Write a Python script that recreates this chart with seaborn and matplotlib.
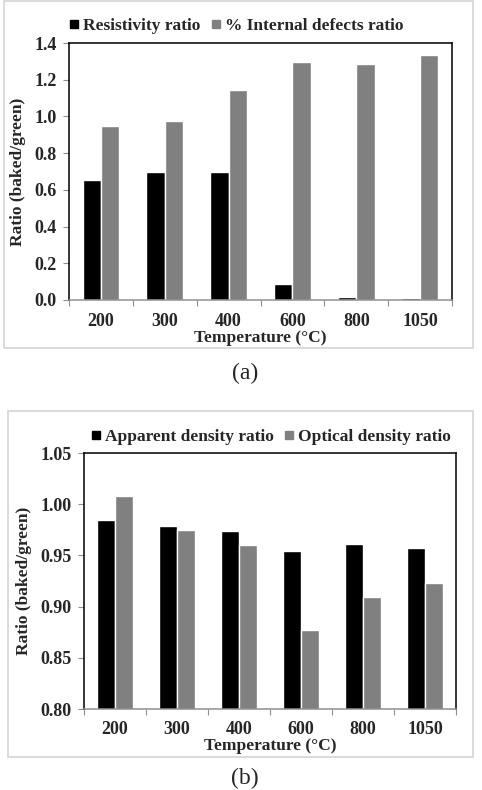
import numpy as np
import pandas as pd
import matplotlib
matplotlib.use("Agg")
import matplotlib.pyplot as plt
import seaborn as sns
from matplotlib.patches import Rectangle
from matplotlib.lines import Line2D

# ---------------------------------------------------------------------------
# data
# ---------------------------------------------------------------------------
temps = ["200", "300", "400", "600", "800", "1050"]

resistivity = [0.655, 0.695, 0.698, 0.089, 0.016, 0.009]
defects     = [0.947, 0.976, 1.146, 1.295, 1.284, 1.335]

apparent = [0.985, 0.979, 0.974, 0.9545, 0.961, 0.9575]
optical  = [1.008, 0.975, 0.960, 0.877, 0.909, 0.9226]

labels_a = ["Resistivity ratio", "% Internal defects ratio"]
labels_b = ["Apparent density ratio", "Optical density ratio"]

BLACK, GRAY = "#000000", "#808080"

sns.set_style("white")
plt.rcParams["font.family"] = ["Liberation Serif", "DejaVu Serif"]


def long_df(s1, s2, names):
    return pd.DataFrame({
        "temp": temps * 2,
        "value": list(s1) + list(s2),
        "series": [names[0]] * len(temps) + [names[1]] * len(temps),
    })


def draw_panel(ax, df, names, ylim, step, fmt, ylabelpad, leg_x, leg_y):
    sns.barplot(data=df, x="temp", y="value", hue="series", order=temps,
                hue_order=names, palette=[BLACK, GRAY], width=0.574,
                saturation=1, gap=0, ax=ax, legend=False)
    ax.set_ylim(*ylim)
    ax.set_xlim(-0.5, len(temps) - 0.5)
    yt = np.arange(ylim[0], ylim[1] + step / 2, step)
    ax.set_yticks(yt)
    ax.set_yticklabels([fmt % v for v in yt], fontsize=13, fontweight="bold")
    # tick marks between categories, labels at centres
    ax.set_xticks(np.arange(-0.5, len(temps), 1))
    ax.set_xticklabels([""] * (len(temps) + 1))
    ax.set_xticks(np.arange(len(temps)), minor=True)
    ax.set_xticklabels(temps, minor=True, fontsize=13, fontweight="bold")
    ax.tick_params(axis="x", which="major", direction="out", length=4,
                   color="#909090", bottom=True)
    ax.tick_params(axis="x", which="minor", length=0, pad=9)
    ax.tick_params(axis="y", direction="out", length=4, color="#909090",
                   left=True, pad=5)
    for s in ["top", "right", "left"]:
        ax.spines[s].set_color("black")
        ax.spines[s].set_linewidth(1.1)
    ax.spines["bottom"].set_color("#909090")
    ax.spines["bottom"].set_linewidth(1.1)
    ax.set_xlabel("Temperature (°C)", fontsize=12.5, fontweight="bold",
                  labelpad=0)
    ax.set_ylabel("Ratio (baked/green)", fontsize=12.5, fontweight="bold",
                  labelpad=ylabelpad)
    handles = [Line2D([], [], marker="s", linestyle="none", markersize=6,
                      color=c) for c in (BLACK, GRAY)]
    ax.legend(handles, names, loc="center left", bbox_to_anchor=(leg_x, leg_y),
              ncol=2, frameon=False, handlelength=0.6, handletextpad=0.2,
              columnspacing=0.6, borderaxespad=0, borderpad=0,
              prop={"size": 12.5, "weight": "bold"})


fig = plt.figure(figsize=(4.82, 7.9), dpi=100)
W, H = 482, 790


def px_axes(l, t, r, b):
    return fig.add_axes([l / W, 1 - b / H, (r - l) / W, (b - t) / H])


# light grey frames around each panel
for (l, t, r, b) in [(4, 1, 473, 348), (8, 411, 473, 757)]:
    fig.patches.append(Rectangle((l / W, 1 - b / H), (r - l) / W, (b - t) / H,
                                 transform=fig.transFigure, fill=False,
                                 edgecolor="#d4d4d4", linewidth=1.2))

ax_a = px_axes(69, 43, 452, 300)
draw_panel(ax_a, long_df(resistivity, defects, labels_a), labels_a,
           (0.0, 1.4), 0.2, "%.1f", 6, 0.0, 1 + 17 / 257)

ax_b = px_axes(84, 453, 456, 709)
draw_panel(ax_b, long_df(apparent, optical, labels_b), labels_b,
           (0.80, 1.05), 0.05, "%.2f", 6, 0.018, 1 + 16 / 256)

fig.text(245 / W, 1 - 373 / H, "(a)", ha="center", va="center", fontsize=17)
fig.text(245 / W, 1 - 789 / H, "(b)", ha="center", va="bottom", fontsize=17)

fig.savefig("out.png", dpi=100)
